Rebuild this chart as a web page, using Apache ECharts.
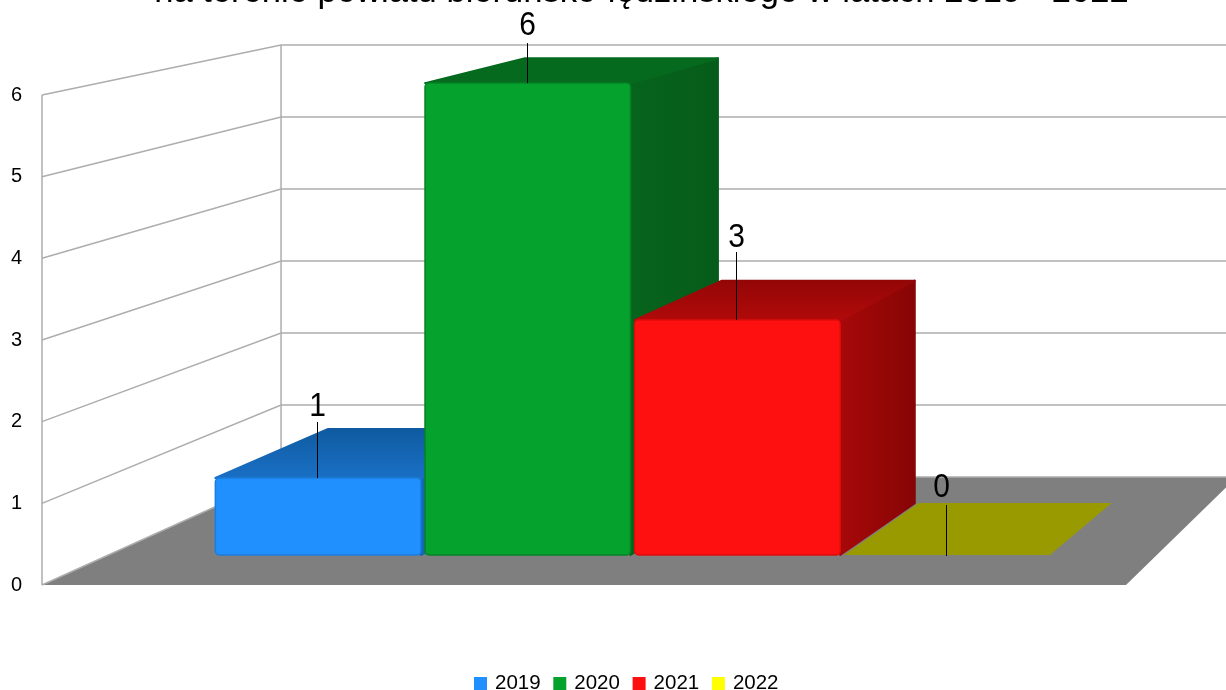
<!DOCTYPE html>
<html><head><meta charset="utf-8">
<style>html,body{margin:0;padding:0;background:#fff}#c{width:1226px;height:690px}</style>
<script src="https://cdn.jsdelivr.net/npm/echarts@6/dist/echarts.min.js"></script>
</head><body><div id="c"></div>
<script>
const titleText = 'na terenie powiatu bieruńsko-lędzińskiego w latach 2019 - 2022';
const categories = ['2019', '2020', '2021', '2022'];
const values = [1, 6, 3, 0];
const ticks = [0, 1, 2, 3, 4, 5, 6];

// style constants for the hand-drawn perspective
const FONT = '"Liberation Sans", Arial, sans-serif';
const VANISH = [2061, -327];
const K_FRONT = 0.0329, K_BACK = 0.092, K_WALL = 0.1184;
const SLOTS = 5, BAR_START = 0.51, BAR_WIDTH = 0.98;
const TOP_INSET = 2, BACK_INSET = 2;
const leaderLen = [56, 40, 68, 51];
const leaderDown = [0, 0, 0, 1];
const labelDx = [0, 0, 0, -5];
const labelGap = [15, 17, 14, 17];
const palette = [
  { face: '#2090ff', edge: '#1c7ddb', top: ['#0f5aa0', '#1a70c6'], side: ['#1468b8', '#0f5aa0'] },
  { face: '#06a22e', edge: '#058226', top: ['#066a1e', '#066a1e'], side: ['#06641c', '#065c1a'] },
  { face: '#ff1010', edge: '#e00d0d', top: ['#930606', '#b20a0a'], side: ['#a80808', '#860505'] },
  { face: '#ffff00', edge: '#999900', top: ['#999900', '#999900'], side: ['#999900', '#999900'] }
];

const chart = echarts.init(document.getElementById('c'), null, { renderer: 'canvas' });

function proj(api, x, y, k, dy) {
  const p = api.coord([x, y]);
  return [p[0] + k * (VANISH[0] - p[0]), p[1] + k * (VANISH[1] - p[1]) + (dy || 0)];
}
const vGrad = (a, b) => ({ type: 'linear', x: 0, y: 0, x2: 0, y2: 1, colorStops: [{ offset: 0, color: a }, { offset: 1, color: b }] });
const hGrad = (a, b) => ({ type: 'linear', x: 0, y: 0, x2: 1, y2: 0, colorStops: [{ offset: 0, color: a }, { offset: 1, color: b }] });

const wallStyle = { stroke: '#adadad', lineWidth: 1.5, fill: null };

function renderWall(params, api) {
  const t = api.value(1);
  const a = proj(api, 0, t, 0), b = proj(api, 0, t, K_WALL), c = proj(api, SLOTS, t, K_WALL);
  return { type: 'polyline', shape: { points: [a, b, c] }, style: wallStyle, silent: true };
}
function renderCorners(params, api) {
  const mk = (k) => ({ type: 'line', shape: { x1: proj(api, 0, 0, k)[0], y1: proj(api, 0, 0, k)[1], x2: proj(api, 0, 6, k)[0], y2: proj(api, 0, 6, k)[1] }, style: wallStyle, silent: true });
  return { type: 'group', children: [mk(0), mk(K_WALL)] };
}
function renderFloor(params, api) {
  const pts = [proj(api, 0, 0, 0), proj(api, SLOTS, 0, 0), proj(api, SLOTS, 0, K_WALL), proj(api, 0, 0, K_WALL)];
  return { type: 'polygon', shape: { points: pts }, style: { fill: '#7f7f7f' }, silent: true };
}
function renderBar(params, api) {
  const i = api.value(0), v = api.value(1), c = palette[i];
  const xL = i + BAR_START, xR = xL + BAR_WIDTH;
  const ins = v > 0 ? TOP_INSET : 0;
  const fTL = proj(api, xL, v, K_FRONT, ins), fTR = proj(api, xR, v, K_FRONT, ins),
        fBL = proj(api, xL, 0, K_FRONT), fBR = proj(api, xR, 0, K_FRONT),
        bTL = proj(api, xL, v, K_BACK, BACK_INSET), bTR = proj(api, xR, v, K_BACK, BACK_INSET),
        bBR = proj(api, xR, 0, K_BACK, BACK_INSET);
  const kids = [];
  const soft = (fill) => ({ fill, stroke: fill, lineWidth: v > 0 ? 2 : 0, lineJoin: 'round' });
  if (v > 0) {
    kids.push({ type: 'polygon', shape: { points: [fTR, bTR, bBR, fBR] }, style: soft(hGrad(c.side[0], c.side[1])) });
  }
  kids.push({ type: 'polygon', shape: { points: [fTL, bTL, bTR, fTR] }, style: soft(vGrad(c.top[0], c.top[1])) });
  if (v > 0) {
    kids.push({
      type: 'rect',
      shape: { x: fTL[0], y: fTL[1], width: fTR[0] - fTL[0], height: fBL[1] - fTL[1], r: 4 },
      style: { fill: c.face, stroke: c.edge, lineWidth: 1.5 }
    });
  }
  const mx = Math.round((fTL[0] + fTR[0]) / 2) - 0.5, my = fTL[1] + leaderDown[i];
  kids.push({ type: 'line', shape: { x1: mx, y1: my, x2: mx, y2: my - leaderLen[i] }, style: { stroke: '#000', lineWidth: 1 } });
  kids.push({
    type: 'text', x: mx + labelDx[i], y: my - leaderLen[i] - labelGap[i], scaleY: 1.12,
    style: { text: String(v), fontFamily: FONT, fontSize: 30, fill: '#000', align: 'center', verticalAlign: 'middle' }
  });
  return { type: 'group', children: kids, silent: true };
}

const baseSeries = {
  type: 'custom', coordinateSystem: 'cartesian2d', encode: { x: 0, y: 1 },
  animation: false, silent: true, clip: false
};
const series = [
  Object.assign({}, baseSeries, { name: 'floor', renderItem: renderFloor, data: [[0, 0]], z: 1 }),
  Object.assign({}, baseSeries, { name: 'walls', renderItem: renderWall, data: ticks.map(t => [0, t]), z: 1 }),
  Object.assign({}, baseSeries, { name: 'corners', renderItem: renderCorners, data: [[0, 0]], z: 1 })
];
categories.forEach((name, i) => {
  series.push(Object.assign({}, baseSeries, {
    name, renderItem: renderBar, data: [[i, values[i]]], z: 3 + i,
    itemStyle: { color: palette[i].face }
  }));
});

chart.setOption({
  animation: false,
  backgroundColor: '#fff',
  title: {
    text: titleText, left: 641.5, textAlign: 'center', top: -25, padding: 0,
    textStyle: { fontFamily: FONT, fontSize: 34.6, fontWeight: 'normal', color: '#000' }
  },
  legend: {
    data: categories, left: 474, top: 673, padding: 0, itemWidth: 13, itemHeight: 13, itemGap: 12.7,
    icon: 'rect', selectedMode: false,
    textStyle: { fontFamily: FONT, fontSize: 20.5, color: '#000', padding: [0, 0, 0, 3] }
  },
  grid: { left: 42, right: 100, top: 95, bottom: 105, containLabel: false },
  xAxis: { type: 'value', min: 0, max: SLOTS, show: false },
  yAxis: {
    type: 'value', min: ticks[0], max: ticks[ticks.length - 1], interval: 1,
    axisLine: { show: false }, axisTick: { show: false }, splitLine: { show: false },
    axisLabel: { margin: 20, fontFamily: FONT, fontSize: 20, color: '#000', padding: [7, 0, 0, 0] }
  },
  series
});
</script></body></html>
